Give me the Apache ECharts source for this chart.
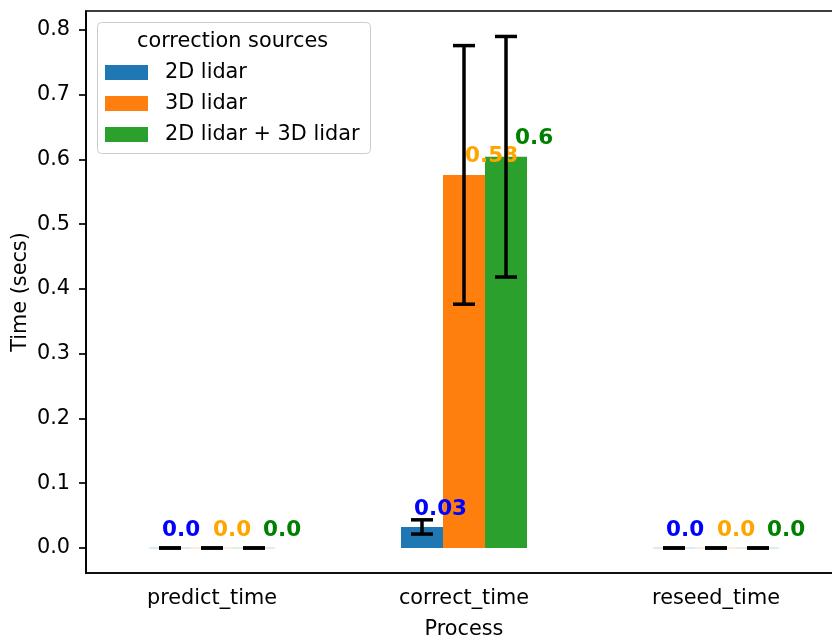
<!DOCTYPE html>
<html>
<head>
<meta charset="utf-8">
<script src="https://cdn.jsdelivr.net/npm/echarts@6/dist/echarts.min.js"></script>
<style>
html,body{margin:0;padding:0;background:#fff;}
#chart{width:832px;height:636px;}
</style>
</head>
<body>
<div id="chart"></div>
<script>
const categories = ['predict_time', 'correct_time', 'reseed_time'];
const seriesNames = ['2D lidar', '3D lidar', '2D lidar + 3D lidar'];
const mean2D = [0.0, 0.0325, 0.0];
const mean3D = [0.0, 0.576, 0.0];
const meanBoth = [0.0, 0.604, 0.0];
const std2D = [0.0, 0.011, 0.0];
const std3D = [0.0, 0.1996, 0.0];
const stdBoth = [0.0, 0.1857, 0.0];
const yTicks = [0.0, 0.1, 0.2, 0.3, 0.4, 0.5, 0.6, 0.7, 0.8];

const barColors = ['#1f77b4', '#ff7f0e', '#2ca02c'];
const labelColors = ['#0000ff', '#ffa500', '#008000'];
const labelOffsets = [-8, 1, 9];
const means = [mean2D, mean3D, meanBoth];
const stds = [std2D, std3D, stdBoth];
const FONT = 'DejaVu Sans';
const FS = 20.8;

function fmt(v) {
  const r = Math.round(v * 100) / 100;
  return Number.isInteger(r) ? r.toFixed(1) : String(r);
}

const chart = echarts.init(document.getElementById('chart'), null, {renderer: 'canvas'});

const barSeries = means.map((arr, k) => ({
  name: seriesNames[k],
  type: 'bar',
  data: arr,
  barWidth: 42,
  barGap: '0%',
  itemStyle: {color: barColors[k]},
  label: {
    show: true,
    position: 'top',
    distance: 7,
    align: 'left',
    color: labelColors[k],
    fontFamily: FONT,
    fontWeight: 'bold',
    fontSize: 21.5,
    formatter: p => fmt(p.value)
  },
  labelLayout: {hideOverlap: false, dx: labelOffsets[k]},
  z: 2
}));

const errData = [];
means.forEach((arr, k) => arr.forEach((m, i) => errData.push([i, m, stds[k][i], k])));

const errSeries = {
  type: 'custom',
  data: errData,
  z: 5,
  silent: true,
  clip: false,
  renderItem: function (params, api) {
    const x = api.value(0), m = api.value(1), s = api.value(2), k = api.value(3);
    const bw = api.size([1, 0])[0] / 6;
    const off = (k - 1) * bw;
    const pT = api.coord([x, m + s]);
    const pB = api.coord([x, m - s]);
    const pM = api.coord([x, m]);
    const cx = pT[0] + off;
    const cap = 11;
    const st = {stroke: '#000', lineWidth: 3.5};
    const children = [];
    if (m === 0) {
      children.push({type: 'line', shape: {x1: cx - bw / 2, y1: pM[1], x2: cx + bw / 2, y2: pM[1]},
        style: {stroke: barColors[k], opacity: 0.3, lineWidth: 1}});
    }
    children.push(
      {type: 'line', shape: {x1: cx, y1: pT[1], x2: cx, y2: pB[1]}, style: st},
      {type: 'line', shape: {x1: cx - cap, y1: pT[1], x2: cx + cap, y2: pT[1]}, style: st},
      {type: 'line', shape: {x1: cx - cap, y1: pB[1], x2: cx + cap, y2: pB[1]}, style: st}
    );
    return {type: 'group', children: children};
  }
};

const option = {
  backgroundColor: '#fff',
  animation: false,
  textStyle: {fontFamily: FONT},
  grid: {left: 86, top: 11, right: -10, bottom: 63, show: true, borderColor: '#000', borderWidth: 1.7,
    backgroundColor: 'transparent', containLabel: false, outerBoundsMode: 'none'},
  xAxis: {
    type: 'category',
    data: categories,
    name: 'Process',
    nameLocation: 'middle',
    nameGap: 46,
    nameTextStyle: {fontSize: FS, color: '#000', fontFamily: FONT},
    axisLine: {onZero: false, lineStyle: {color: '#000', width: 1.7}},
    axisTick: {alignWithLabel: true, length: 7, lineStyle: {color: '#000', width: 1.7}},
    axisLabel: {fontSize: FS, color: '#000', fontFamily: FONT, margin: 15},
    splitLine: {show: false}
  },
  yAxis: {
    type: 'value',
    min: -0.0386,
    max: 0.829,
    name: 'Time (secs)',
    nameLocation: 'middle',
    nameGap: 55,
    nameMoveOverlap: false,
    nameRotate: 90,
    nameTextStyle: {fontSize: FS, color: '#000', fontFamily: FONT},
    axisLine: {show: true, lineStyle: {color: '#000', width: 1.7}},
    axisTick: {show: true, length: 7, lineStyle: {color: '#000', width: 1.7}, customValues: yTicks},
    axisLabel: {fontSize: FS, color: '#000', fontFamily: FONT, margin: 16, customValues: yTicks, formatter: v => v.toFixed(1)},
    splitLine: {show: false}
  },
  legend: {
    orient: 'vertical',
    left: 105,
    top: 62,
    padding: 0,
    itemWidth: 43,
    itemHeight: 15,
    itemGap: 10,
    icon: 'rect',
    data: seriesNames,
    textStyle: {fontSize: FS, color: '#000', fontFamily: FONT, lineHeight: 15, padding: [0, 0, 0, 12]},
    z: 20
  },
  graphic: [
    {type: 'rect', left: 97, top: 22, z: 15, shape: {width: 273, height: 131, r: 4},
      style: {fill: 'rgba(255,255,255,0.8)', stroke: '#cccccc', lineWidth: 1}},
    {type: 'text', left: 137, top: 31, z: 16,
      style: {text: 'correction sources', fontSize: FS, fill: '#000', fontFamily: FONT}}
  ],
  series: barSeries.concat([errSeries])
};
chart.setOption(option);
</script>
</body>
</html>
